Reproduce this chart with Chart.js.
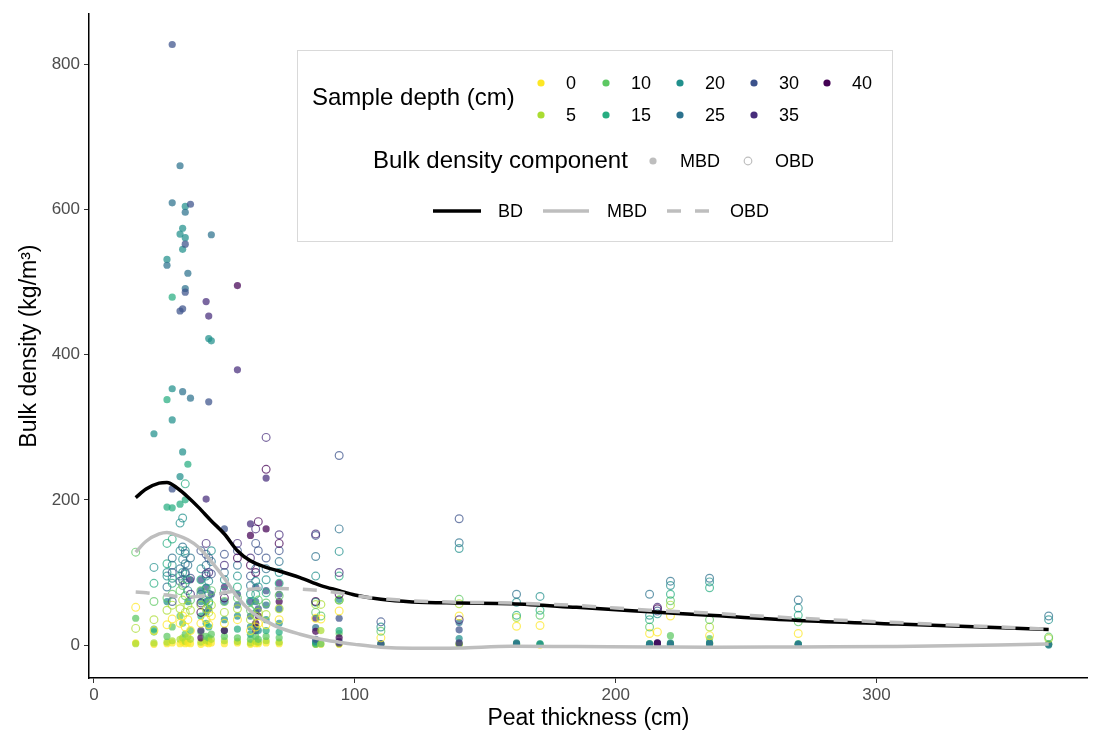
<!DOCTYPE html>
<html>
<head>
<meta charset="utf-8">
<script src="https://cdn.jsdelivr.net/npm/chart.js@4.4.1/dist/chart.umd.min.js"></script>
<style>
  html, body { margin: 0; padding: 0; background: #fff; }
</style>
</head>
<body>
<canvas id="canvas" width="1093" height="733"></canvas>
<script>
// sample depth classes and their viridis colours
const depthLevels = [0, 5, 10, 15, 20, 25, 30, 35, 40];
const depthColors = ['#FDE725', '#AADC32', '#5DC863', '#27AD81', '#21908C', '#2C728E', '#3B528B', '#472D7B', '#440154'];

// one row per coring site: peat thickness (cm), sample depths, mineral and organic bulk density (kg/m3)
const siteThickness = [16, 23, 28, 30, 33, 34, 35, 36, 37, 41, 43, 44, 45, 50, 55, 60, 62, 63, 66, 71, 85, 87, 94, 110, 140, 162, 171, 213, 216, 221, 236, 270, 366];
const siteDepths = [
  [0, 5, 10],
  [0, 5, 10, 15, 20],
  [0, 5, 10, 15, 15, 20, 20, 25],
  [0, 5, 10, 15, 15, 20, 20, 25, 30, 30],
  [0, 5, 10, 15, 20, 20, 25, 30],
  [0, 5, 10, 20, 20, 20, 25, 30],
  [0, 5, 10, 15, 20, 20, 25, 25, 30, 30],
  [0, 5, 15, 20, 25],
  [0, 5, 10, 25, 30, 35],
  [0, 5, 10, 15, 20, 25, 30, 35, 40],
  [0, 5, 10, 15, 20, 25, 30, 35, 35],
  [0, 5, 10, 15, 20, 25, 30, 35],
  [0, 5, 10, 20, 25, 30],
  [0, 5, 10, 15, 20, 25, 30, 35, 40],
  [0, 5, 10, 15, 20, 25, 30, 35, 40],
  [0, 5, 10, 15, 20, 25, 30, 35, 40],
  [0, 5, 10, 15, 20, 25, 30, 35, 40],
  [0, 5, 10, 20, 30, 40],
  [0, 5, 10, 15, 20, 25, 30, 35, 40],
  [0, 5, 10, 15, 20, 25, 30, 35, 40],
  [0, 5, 10, 15, 20, 25, 30, 35, 40],
  [0, 5, 10],
  [0, 5, 10, 15, 20, 25, 30, 35, 40],
  [0, 10, 20, 30],
  [0, 5, 10, 20, 25, 30, 35],
  [0, 5, 15, 20, 25],
  [0, 10, 15, 20],
  [0, 10, 15, 20, 25],
  [0, 20, 30, 35, 40],
  [0, 5, 10, 15, 20, 25],
  [0, 5, 10, 15, 20, 25],
  [0, 10, 15, 20, 25],
  [5, 10, 20, 25]
];
const siteMBD = [
  [3, 2, 37],
  [1, 3, 18, 22, 291],
  [2, 4, 12, 338, 190, 531, 60, 523],
  [3, 6, 25, 479, 189, 353, 310, 609, 827, 215],
  [2, 8, 40, 194, 566, 232, 660, 460],
  [4, 10, 30, 574, 545, 266, 349, 463],
  [2, 5, 15, 200, 604, 561, 596, 491, 552, 486],
  [3, 12, 249, 60, 512],
  [2, 8, 20, 340, 607, 90],
  [1, 4, 18, 40, 60, 75, 90, 20, 10],
  [3, 6, 12, 30, 45, 60, 80, 473, 201],
  [2, 5, 10, 25, 422, 50, 335, 453],
  [3, 8, 15, 419, 565, 70],
  [2, 6, 12, 20, 35, 60, 160, 80, 20],
  [3, 5, 10, 22, 40, 55, 70, 379, 495],
  [1, 3, 8, 15, 25, 40, 60, 167, 151],
  [2, 5, 12, 25, 45, 60, 80, 20, 30],
  [2, 4, 8, 20, 50, 40],
  [3, 6, 12, 20, 35, 55, 75, 230, 160],
  [2, 4, 10, 18, 30, 50, 70, 85, 60],
  [1, 2, 1, 3, 5, 24, 8, 37, 19],
  [1, 20, 2],
  [1, 2, 16, 20, 63, 5, 37, 3, 10],
  [1, 2, 1, 2],
  [0, 1, 2, 9, 31, 21, 3],
  [1, 2, 1, 3, 2],
  [0, 1, 2, 1],
  [1, 2, 1, 2, 1],
  [1, 2, 3, 2, 3],
  [0, 2, 13, 3, 1, 2],
  [1, 3, 9, 2, 3, 2],
  [1, 1, 2, 1, 1],
  [1, 2, 0, 1]
];
const siteOBD = [
  [52, 23, 128],
  [20, 35, 60, 85, 107],
  [28, 48, 65, 112, 140, 95, 100, 80],
  [36, 55, 70, 146, 85, 110, 92, 120, 60, 100],
  [30, 50, 75, 95, 130, 168, 105, 88],
  [40, 62, 82, 118, 100, 175, 135, 90],
  [25, 45, 68, 222, 130, 98, 112, 126, 85, 100],
  [35, 55, 90, 75, 110],
  [20, 48, 62, 120, 92, 70],
  [30, 55, 75, 90, 105, 70, 130, 58, 45],
  [35, 50, 62, 78, 95, 110, 125, 98, 140],
  [28, 45, 58, 60, 88, 70, 120, 100],
  [40, 55, 75, 130, 115, 98],
  [30, 45, 60, 75, 90, 100, 125, 110, 65],
  [35, 50, 65, 80, 95, 110, 130, 140, 120],
  [20, 35, 48, 60, 70, 82, 95, 120, 110],
  [25, 40, 55, 70, 88, 105, 140, 160, 100],
  [30, 45, 62, 80, 130, 170],
  [28, 42, 58, 72, 90, 105, 120, 286, 242],
  [35, 50, 68, 85, 100, 115, 130, 152, 140],
  [37, 56, 45, 59, 95, 122, 151, 153, 60],
  [36, 56, 40],
  [47, 62, 62, 95, 129, 160, 261, 100, 70],
  [10, 19, 25, 32],
  [40, 57, 63, 133, 141, 174, 35],
  [26, 38, 41, 59, 70],
  [27, 41, 48, 67],
  [16, 25, 35, 41, 70],
  [18, 43, 47, 52, 50],
  [40, 55, 61, 70, 82, 88],
  [13, 25, 35, 79, 87, 92],
  [16, 32, 41, 51, 62],
  [9, 11, 35, 40]
];

// smoothed trends
const curveX = [16, 20, 25, 28, 32, 36, 40, 45, 50, 55, 60, 66, 71, 79, 87, 94, 100, 110, 122, 140, 160, 185, 213, 236, 270, 308, 366];
const bdCurve = [203, 215, 223, 224, 216, 204, 190, 171, 153, 130, 116, 107, 102, 93, 82, 75, 69, 63, 59.5, 58, 57, 52, 46, 41, 34, 29, 21.5];
const mbdCurve = [128, 143, 153, 155, 151, 145, 135, 115, 92, 66, 47, 33, 24, 15, 8, 4, 1, -3, -4.5, -4, -1.5, -2, -2.5, -3, -2.5, -2, 1.5];
const obdCurve = [73, 72, 70, 69, 67, 66, 67, 69, 72, 75, 77, 78, 78, 77, 75, 72, 68, 64, 61, 59, 58, 54.5, 48, 44, 37, 31, 22];

const xTicks = [0, 100, 200, 300];
const yTicks = [0, 200, 400, 600, 800];

const FONT = '"Liberation Sans", Arial, Helvetica, sans-serif';
const GREY = '#BEBEBE';

function withAlpha(hex, a) {
  const n = parseInt(hex.slice(1), 16);
  return `rgba(${n >> 16}, ${(n >> 8) & 255}, ${n & 255}, ${a})`;
}
function depthColor(d) {
  return depthColors[depthLevels.indexOf(d)];
}

const mbdPoints = [], obdPoints = [], mbdColors = [], obdColors = [];
siteThickness.forEach((t, i) => {
  siteDepths[i].forEach((d, j) => {
    mbdPoints.push({ x: t, y: siteMBD[i][j] });
    obdPoints.push({ x: t, y: siteOBD[i][j] });
    mbdColors.push(withAlpha(depthColor(d), 0.72));
    obdColors.push(withAlpha(depthColor(d), 0.72));
  });
});

const toXY = ys => curveX.map((x, i) => ({ x: x, y: ys[i] }));

// legend drawn inside the panel, ggplot style
const ggLegend = {
  id: 'ggLegend',
  afterDraw(chart) {
    const c = chart.ctx;
    c.save();
    c.fillStyle = '#fff';
    c.fillRect(297, 50, 595, 191);
    c.strokeStyle = '#D9D9D9';
    c.lineWidth = 1;
    c.strokeRect(297.5, 50.5, 595, 191);

    c.textBaseline = 'middle';
    c.textAlign = 'left';
    c.fillStyle = '#000';
    c.font = '24px ' + FONT;
    c.fillText('Sample depth (cm)', 312, 98);

    const colX = [541, 606, 680, 754, 827];
    const rowY = [83, 115];
    c.font = '18px ' + FONT;
    depthLevels.forEach((d, i) => {
      const x = colX[Math.floor(i / 2)], y = rowY[i % 2];
      c.fillStyle = depthColors[i];
      c.beginPath();
      c.arc(x, y, 3.6, 0, Math.PI * 2);
      c.fill();
      c.fillStyle = '#000';
      c.fillText(String(d), x + 25, y + 1);
    });

    c.font = '24px ' + FONT;
    c.fillText('Bulk density component', 373, 161);
    c.font = '18px ' + FONT;
    c.fillStyle = GREY;
    c.beginPath();
    c.arc(653, 161, 3.6, 0, Math.PI * 2);
    c.fill();
    c.strokeStyle = GREY;
    c.lineWidth = 1.2;
    c.beginPath();
    c.arc(748, 161, 3.8, 0, Math.PI * 2);
    c.stroke();
    c.fillStyle = '#000';
    c.fillText('MBD', 680, 162);
    c.fillText('OBD', 775, 162);

    const ly = 211;
    c.lineWidth = 3.5;
    c.strokeStyle = '#000';
    c.beginPath(); c.moveTo(433, ly); c.lineTo(481, ly); c.stroke();
    c.strokeStyle = GREY;
    c.beginPath(); c.moveTo(543, ly); c.lineTo(589, ly); c.stroke();
    c.setLineDash([14, 14]);
    c.beginPath(); c.moveTo(667, ly); c.lineTo(711, ly); c.stroke();
    c.setLineDash([]);
    c.fillStyle = '#000';
    c.fillText('BD', 498, ly + 1);
    c.fillText('MBD', 607, ly + 1);
    c.fillText('OBD', 730, ly + 1);
    c.restore();
  }
};

const ctx = document.getElementById('canvas').getContext('2d');
const myChart = new Chart(ctx, {
  type: 'scatter',
  data: {
    datasets: [
      {
        label: 'OBD trend',
        type: 'line',
        data: toXY(obdCurve),
        borderColor: GREY,
        borderWidth: 3.5,
        borderDash: [14, 14],
        pointRadius: 0,
        cubicInterpolationMode: 'monotone',
        fill: false,
        order: 0
      },
      {
        label: 'BD trend',
        type: 'line',
        data: toXY(bdCurve),
        borderColor: '#000',
        borderWidth: 3.5,
        pointRadius: 0,
        cubicInterpolationMode: 'monotone',
        fill: false,
        order: 1
      },
      {
        label: 'MBD trend',
        type: 'line',
        data: toXY(mbdCurve),
        borderColor: GREY,
        borderWidth: 3.5,
        pointRadius: 0,
        cubicInterpolationMode: 'monotone',
        fill: false,
        order: 2
      },
      {
        label: 'OBD',
        data: obdPoints,
        pointRadius: 3.9,
        pointBackgroundColor: 'rgba(0,0,0,0)',
        pointBorderColor: obdColors,
        pointBorderWidth: 1.2,
        order: 3
      },
      {
        label: 'MBD',
        data: mbdPoints,
        pointRadius: 3.6,
        pointBackgroundColor: mbdColors,
        pointBorderWidth: 0,
        order: 4
      }
    ]
  },
  options: {
    responsive: false,
    animation: false,
    devicePixelRatio: 1,
    layout: { padding: { left: 0, right: 2, top: 12, bottom: 0 } },
    plugins: { legend: { display: false }, tooltip: { enabled: false } },
    scales: {
      x: {
        type: 'linear',
        min: -1.9,
        max: 381,
        afterBuildTicks: s => { s.ticks = xTicks.map(v => ({ value: v })); },
        afterFit: s => { s.height = 55; },
        grid: { display: true, drawOnChartArea: false, drawTicks: true, tickLength: 5, tickColor: '#333', tickWidth: 1 },
        border: { display: true, color: '#000', width: 1.5 },
        ticks: { font: { family: FONT, size: 17 }, color: '#4D4D4D', padding: 2 },
        title: { display: true, text: 'Peat thickness (cm)', font: { family: FONT, size: 23 }, color: '#000', padding: { top: 0, bottom: 1 } }
      },
      y: {
        type: 'linear',
        min: -45.3,
        max: 868.7,
        afterBuildTicks: s => { s.ticks = yTicks.map(v => ({ value: v })); },
        afterFit: s => { s.width = 89; },
        grid: { display: true, drawOnChartArea: false, drawTicks: true, tickLength: 5, tickColor: '#333', tickWidth: 1 },
        border: { display: true, color: '#000', width: 1.5 },
        ticks: { font: { family: FONT, size: 17 }, color: '#4D4D4D', padding: 4 },
        title: { display: true, text: 'Bulk density (kg/m³)', font: { family: FONT, size: 23 }, color: '#000', padding: { top: 16, bottom: 0 } }
      }
    }
  },
  plugins: [ggLegend]
});
</script>
</body>
</html>
